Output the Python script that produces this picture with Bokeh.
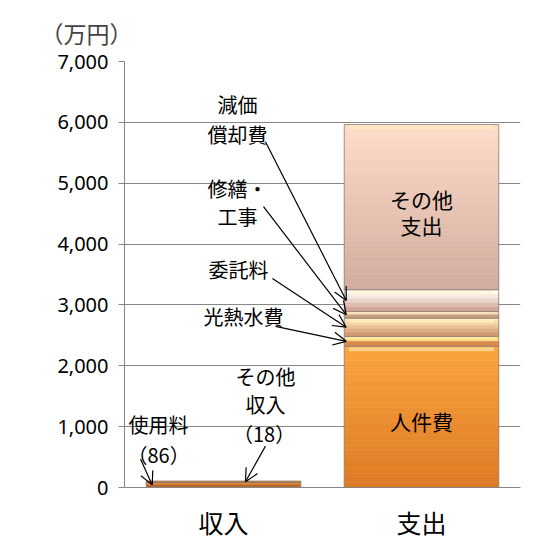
from bokeh.plotting import figure
from bokeh.models import (FactorRange, FixedTicker, NumeralTickFormatter, Label, Arrow,
                          OpenHead, ColumnDataSource)
from bokeh.embed import file_html
from bokeh.resources import INLINE

# ---- data ----
categories = ["収入", "支出"]
income_items = ["使用料", "その他収入"]
income_values = [86, 18]
expense_items = ["人件費", "光熱水費", "委託料", "修繕・工事", "減価償却費", "その他支出"]
expense_values = [2320, 164, 300, 110, 356, 2715]
y_ticks = [0, 1000, 2000, 3000, 4000, 5000, 6000, 7000]

# gradient colours (top, bottom) per expense segment
expense_colors = [("#FBA43E", "#DE7A24"), ("#FFE08A", "#D98A4E"), ("#FFE6B8", "#D29A72"),
                  ("#F6DDBE", "#C9A082"), ("#FFFFFF", "#D3A898"), ("#FDDCC8", "#D2AC9F")]
income_colors = [("#D9873C", "#B8692A"), ("#D9873C", "#B8692A")]

FONT = "Noto Sans CJK JP"
BAR_W = 0.78

p = figure(x_range=FactorRange(*categories, range_padding=0), y_range=(0, 7000),
           width=540, height=543, output_backend="svg", toolbar_location=None,
           min_border_left=124, min_border_right=20, min_border_top=61, min_border_bottom=56,
           title="（万円）")
p.outline_line_color = None
p.title.align = "left"
p.title.text_font = FONT
p.title.text_font_size = "23px"
p.title.text_font_style = "normal"
p.title.offset = -84
p.title.standoff = 23

def hexmix(c1, c2, t):
    a = [int(c1[i:i+2], 16) for i in (1, 3, 5)]
    b = [int(c2[i:i+2], 16) for i in (1, 3, 5)]
    return "#%02x%02x%02x" % tuple(round(a[k] + (b[k] - a[k]) * t) for k in range(3))

def draw_stack(cat, vals, cols):
    base = 0
    for v, (ct, cb) in zip(vals, cols):
        n = max(2, min(30, int(v / 60)))
        xs, bots, tops, colors = [], [], [], []
        for i in range(n):
            t0 = base + v - v * i / n
            t1 = base + v - v * (i + 1) / n
            xs.append(cat); tops.append(t0); bots.append(t1)
            colors.append(hexmix(ct, cb, i / max(1, n - 1)))
        src = ColumnDataSource(dict(x=xs, top=tops, bottom=bots, c=colors))
        p.vbar(x="x", top="top", bottom="bottom", width=BAR_W, source=src,
               fill_color="c", line_color="c", line_width=0.5)
        # bevel highlight at the top of each segment
        if v > 100:
            h = min(v * 0.25, 80)
            p.vbar(x=[cat], top=[base + v - 15], bottom=[base + v - h], width=BAR_W * 0.94,
                   fill_color=hexmix(ct, "#FFF2C0", 0.6), line_color=None, fill_alpha=0.95)
        p.vbar(x=[cat], top=[base + v], bottom=[base], width=BAR_W,
               fill_color=None, line_color="#8e7f76", line_width=1, line_alpha=0.8)
        base += v

draw_stack("収入", income_values, income_colors)
draw_stack("支出", expense_values, expense_colors)

# axes / grid
p.yaxis.ticker = FixedTicker(ticks=y_ticks)
p.yaxis.formatter = NumeralTickFormatter(format="0,0")
p.yaxis.major_tick_out = 6
p.yaxis.major_tick_in = 0
p.yaxis.minor_tick_line_color = None
p.yaxis.axis_line_color = "#868686"
p.yaxis.major_tick_line_color = "#868686"
p.yaxis.major_label_text_font = "Noto Sans"
p.yaxis.major_label_text_font_size = "20px"
p.yaxis.major_label_text_color = "#000000"
p.yaxis.major_label_standoff = 10

p.xaxis.major_tick_line_color = None
p.xaxis.minor_tick_line_color = None
p.xaxis.axis_line_color = "#868686"
p.xaxis.major_label_text_font = FONT
p.xaxis.major_label_text_font_size = "25px"
p.xaxis.major_label_text_color = "#000000"
p.xaxis.major_label_standoff = 10

p.xgrid.grid_line_color = None
p.ygrid.grid_line_color = "#868686"
p.ygrid.grid_line_width = 1

def lab(txt, x, y, size="20px", align="center"):
    p.add_layout(Label(x=x, y=y, text=txt, text_font=FONT, text_font_size=size,
                       text_align=align, text_baseline="middle", text_color="#000000"))

# in-bar labels
lab("その他", 1.5, 4746, "21px")
lab("支出", 1.5, 4320, "21px")
lab("人件費", 1.5, 1090, "21px")

# callout labels
lab("減価", 0.571, 6287)
lab("償却費", 0.571, 5795)
lab("修繕・", 0.571, 4910)
lab("工事", 0.571, 4451)
lab("委託料", 0.576, 3582)
lab("光熱水費", 0.601, 2811)
lab("その他", 0.712, 1828)
lab("収入", 0.712, 1369)
lab("（18）", 0.705, 893)
lab("使用料", 0.172, 1041)
lab("（86）", 0.172, 549)

# arrows pointing at segment midpoints
cum = []
s = 0
for v in expense_values:
    cum.append(s + v / 2)
    s += v
bar_left = 1.5 - BAR_W / 2 + 0.01
tails = {4: (0.712, 5680), 3: (0.702, 4615), 2: (0.747, 3434), 1: (0.763, 2648)}
for idx, (tx, ty) in tails.items():
    p.add_layout(Arrow(x_start=tx, y_start=ty, x_end=bar_left, y_end=cum[idx],
                       line_color="#000000", line_width=1.2,
                       end=OpenHead(size=13, line_color="#000000", line_width=1.2)))
p.add_layout(Arrow(x_start=0.081, y_start=467, x_end=0.14, y_end=income_values[0] / 2,
                   line_color="#000000", line_width=1.2,
                   end=OpenHead(size=13, line_color="#000000", line_width=1.2)))
p.add_layout(Arrow(x_start=0.712, y_start=680, x_end=0.611, y_end=sum(income_values) - 10,
                   line_color="#000000", line_width=1.2,
                   end=OpenHead(size=13, line_color="#000000", line_width=1.2)))

open("out.html", "w").write(file_html(p, INLINE))
